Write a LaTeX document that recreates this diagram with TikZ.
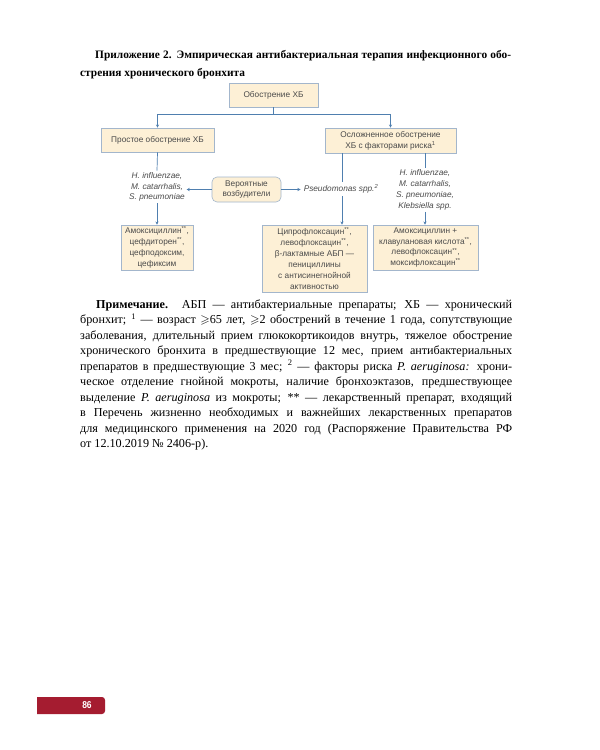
\documentclass[tikz,border=0pt]{standalone}
\usepackage{fontspec}
\usepackage{amssymb}
\setmainfont{Liberation Serif}
\setsansfont{Liberation Sans}
\usetikzlibrary{arrows.meta}
\definecolor{boxfill}{HTML}{FDF0D6}
\definecolor{boxline}{HTML}{A3B6CC}
\definecolor{arrowc}{HTML}{4F7FAF}
\definecolor{txt}{HTML}{4A4A4A}
\definecolor{tabred}{HTML}{A51C30}
\newcommand{\dstar}{\textsuperscript{**}}
\begin{document}
\begin{tikzpicture}[x=1bp,y=-1bp,
  box/.style={draw=boxline, fill=boxfill, line width=0.6bp,
    font=\sffamily\fontsize{8.3}{10.9}\selectfont, text=txt, align=center, inner sep=0pt},
  plain/.style={font=\sffamily\itshape\fontsize{8.3}{10.9}\selectfont, text=txt, align=center, inner sep=1.5bp},
  conn/.style={draw=arrowc, line width=0.7bp},
  arr/.style={conn, -{Stealth[length=3.2bp,width=3.2bp]}},
  note/.style={anchor=base west, inner sep=0pt, font=\fontsize{12.2}{15.5}\selectfont},
  ttl/.style={anchor=base west, inner sep=0pt, font=\bfseries\fontsize{11.4}{15}\selectfont}]
\fill[white] (0,0) rectangle (600,750);
\useasboundingbox (0,0) rectangle (600,750);

% title
\node[ttl] (t1) at (95,59) {\makebox[416bp][s]{Приложение 2. Эмпирическая антибактериальная терапия инфекционного обо-}};
\node[ttl] (t2) at (80,76.5) {стрения хронического бронхита};

% diagram
\node[box, minimum width=89bp, minimum height=24bp] (top) at (273.5,95) {Обострение ХБ};
\node[box, minimum width=113bp, minimum height=24bp] (simple) at (157.5,140) {Простое обострение ХБ};
\node[box, minimum width=131bp, minimum height=25bp] (complex) at (390.5,140.5) {Осложненное обострение\\ХБ с факторами риска\textsuperscript{1}};
\node[box, rounded corners=5bp, minimum width=69bp, minimum height=25bp] (path) at (246.5,189.5) {Вероятные\\возбудители};
\node[plain] (lt) at (157,187) {H. influenzae,\\M. catarrhalis,\\S. pneumoniae};
\node[plain, inner sep=3bp] (ps) at (341,189) {Pseudomonas spp.\textsuperscript{2}};
\node[plain] (rt) at (425,190) {H. influenzae,\\M. catarrhalis,\\S. pneumoniae,\\Klebsiella spp.};
\node[box, minimum width=72bp, minimum height=45bp] (b1) at (157,247.5) {Амоксициллин\dstar,\\цефдиторен\dstar,\\цефподоксим,\\цефиксим};
\node[box, minimum width=105bp, minimum height=67bp] (b2) at (314.5,258.5) {Ципрофлоксацин\dstar,\\левофлоксацин\dstar,\\β-лактамные АБП —\\пенициллины\\с антисинегнойной\\активностью};
\node[box, minimum width=105bp, minimum height=45bp] (b3) at (425.5,247.5) {Амоксициллин +\\клавулановая кислота\dstar,\\левофлоксацин\dstar,\\моксифлоксацин\dstar};

\draw[conn] (top.south) -- ++(0,7) coordinate (hb);
\draw[arr] (hb) -| (simple.north);
\draw[arr] (hb) -| (complex.north);
\draw[conn] (simple.south) -- (lt.north);
\draw[arr] (lt.south) -- (lt.south |- b1.north);
\coordinate (mx) at (342,0);
\draw[conn] (complex.south -| mx) -- (mx |- ps.north);
\draw[arr] (mx |- ps.south) -- (mx |- b2.north);
\draw[conn] (complex.south -| rt) -- (rt.north);
\draw[arr] (rt.south) -- (rt.south |- b3.north);
\draw[arr] (path.west) -- (path.west -| lt.east);
\draw[arr] (path.east) -- (path.east -| ps.west);

% note
\node[note] (n1) at (96,308) {\makebox[416bp][s]{\textbf{Примечание.} АБП — антибактериальные препараты; ХБ — хронический}};
\node[note] (n2) at (80,323.5) {\makebox[432bp][s]{бронхит; \textsuperscript{1} — возраст $\geqslant$65 лет, $\geqslant$2 обострений в течение 1 года, сопутствующие}};
\node[note] (n3) at (80,339) {\makebox[432bp][s]{заболевания, длительный прием глюкокортикоидов внутрь, тяжелое обострение}};
\node[note] (n4) at (80,354.5) {\makebox[432bp][s]{хронического бронхита в предшествующие 12 мес, прием антибактериальных}};
\node[note] (n5) at (80,370) {\makebox[432bp][s]{препаратов в предшествующие 3 мес; \textsuperscript{2} — факторы риска \textit{P. aeruginosa:} хрони-}};
\node[note] (n6) at (80,385.5) {\makebox[432bp][s]{ческое отделение гнойной мокроты, наличие бронхоэктазов, предшествующее}};
\node[note] (n7) at (80,401) {\makebox[432bp][s]{выделение \textit{P. aeruginosa} из мокроты; ** — лекарственный препарат, входящий}};
\node[note] (n8) at (80,416.5) {\makebox[432bp][s]{в Перечень жизненно необходимых и важнейших лекарственных препаратов}};
\node[note] (n9) at (80,432) {\makebox[432bp][s]{для медицинского применения на 2020 год (Распоряжение Правительства РФ}};
\node[note] (n10) at (80,447.5) {от 12.10.2019 № 2406-р).};

% page tab
\fill[tabred] (37,697) [rounded corners=3bp] -- (105,697) -- (105,714) [sharp corners] -- (37,714) -- cycle;
\node[text=white, font=\sffamily\bfseries\fontsize{10}{12}\selectfont, xscale=0.85, inner sep=0pt] (pg) at (87,705.5) {86};
\end{tikzpicture}
\end{document}
